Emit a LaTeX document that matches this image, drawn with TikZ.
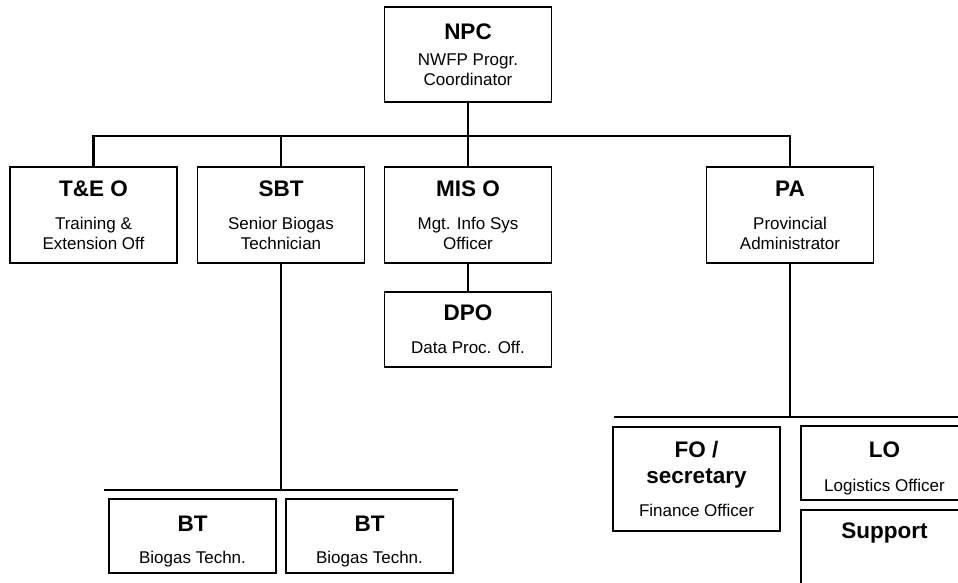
\documentclass[tikz,border=0pt]{standalone}
\usepackage{fontspec}
\setmainfont{Liberation Sans}
\usetikzlibrary{positioning,calc}
\newcommand{\subfont}{\fontsize{17}{20}\selectfont}
\newcommand{\ttl}[1]{{\fontsize{22.5}{27}\selectfont\bfseries #1}}
\tikzset{
  orgbox/.style={rectangle, draw=black, line width=1.5pt, fill=white,
                 minimum width=167pt, minimum height=95pt, inner sep=0pt,
                 align=center, font=\subfont},
  bus/.style={draw=black, line width=2.2pt},
  thinbus/.style={draw=black, line width=1.3pt},
}
\begin{document}
\begin{tikzpicture}[x=1pt, y=-1pt]
  \useasboundingbox (0,0) rectangle (958,582);
  \clip (0,0) rectangle (958,582);
  % top
  \node[orgbox] (npc) at (468,54.5) {\ttl{NPC}\\[6pt]NWFP Progr.\\Coordinator};
  % second row
  \node[orgbox, minimum height=96pt] (teo) at (93.5,215) {\ttl{T\&E O}\\[13pt]Training \&\\Extension Off};
  \node[orgbox, minimum height=96pt] (sbt) at (281,215) {\ttl{SBT}\\[13pt]Senior Biogas\\Technician};
  \node[orgbox, minimum height=96pt] (mis) at (468,215) {\ttl{MIS O}\\[13pt]Mgt. Info Sys\\Officer};
  \node[orgbox, minimum height=96pt] (pa) at (790,215) {\ttl{PA}\\[13pt]Provincial\\Administrator};
  \node[orgbox, minimum height=75pt] (dpo) at (468,329.5) {\ttl{DPO}\\[13pt]Data Proc. Off.};
  % technicians
  \node[orgbox, minimum height=74pt, text height=58pt] (bt1) at (192.5,536) {\ttl{BT}\\[12pt]Biogas Techn.};
  \node[orgbox, minimum height=74pt, text height=58pt] (bt2) at (369.5,536) {\ttl{BT}\\[12pt]Biogas Techn.};
  % administration
  \node[orgbox, minimum height=104pt] (fo) at (696.5,479) {\ttl{FO /}\\[6pt]\ttl{secretary}\\[13pt]Finance Officer};
  \node[orgbox, minimum height=74pt, text height=60pt] (lo) at (884.5,463) {\ttl{LO}\\[14pt]Logistics Officer};
  \node[orgbox, minimum height=91pt, anchor=north] (sup) at (884.5,509) {};
  \node[anchor=north, inner sep=0pt] (suptxt) at ([yshift=-14pt]sup.north) {\ttl{Support}};
  % connectors
  \coordinate (busL) at (93.5,136);
  \coordinate (btbusL) at (104,490);
  \coordinate (btbusR) at (458,490);
  \coordinate (pabusL) at (614,417);
  \coordinate (pabusR) at (958,417);
  \draw[bus] (teo.north) -- (teo.north |- busL) -- (pa.north |- busL) -- (pa.north);
  \draw[bus] (sbt.north) -- (sbt.north |- busL);
  \draw[bus] (npc.south) -- (mis.north);
  \draw[bus] (mis.south) -- (dpo.north);
  \draw[bus] (sbt.south) -- (sbt.south |- btbusL);
  \draw[bus] (btbusL) -- (btbusR);
  \draw[thinbus] (pa.south) -- (pa.south |- pabusL);
  \draw[bus] (pabusL) -- (pabusR);
\end{tikzpicture}
\end{document}
